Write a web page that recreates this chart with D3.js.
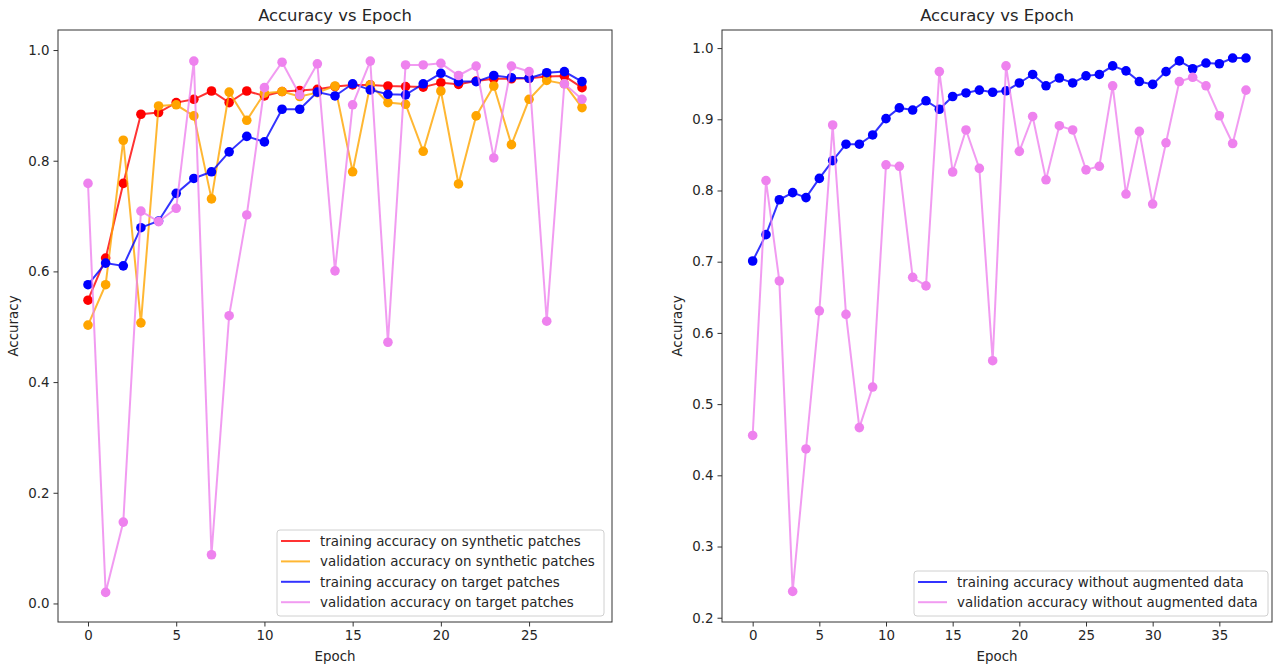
<!DOCTYPE html>
<html>
<head>
<meta charset="utf-8">
<script src="https://cdn.jsdelivr.net/npm/d3@7"></script>
<style>
  html, body { margin: 0; padding: 0; background: #fff; }
  svg { display: block; font-family: "DejaVu Sans", sans-serif; }
</style>
</head>
<body>
<svg id="chart" width="1276" height="665"></svg>
<script>
// --- data ---
var epochsLeft = d3.range(0, 29);
var trainSynthetic = [0.548, 0.624, 0.759, 0.884, 0.887, 0.905, 0.911, 0.926, 0.905, 0.926,
  0.917, 0.925, 0.927, 0.929, 0.934, 0.937, 0.937, 0.935, 0.934, 0.933,
  0.941, 0.938, 0.944, 0.948, 0.948, 0.949, 0.952, 0.953, 0.932];
var valSynthetic = [0.503, 0.576, 0.837, 0.507, 0.899, 0.901, 0.881, 0.731, 0.924, 0.873,
  0.922, 0.925, 0.916, 0.923, 0.935, 0.780, 0.937, 0.905, 0.902, 0.817,
  0.926, 0.758, 0.881, 0.935, 0.829, 0.911, 0.945, 0.939, 0.896];
var trainTarget = [0.576, 0.615, 0.610, 0.679, 0.691, 0.741, 0.768, 0.780, 0.816, 0.844,
  0.834, 0.893, 0.893, 0.924, 0.917, 0.939, 0.928, 0.920, 0.919, 0.939,
  0.958, 0.943, 0.943, 0.954, 0.950, 0.949, 0.959, 0.961, 0.943];
var valTarget = [0.759, 0.020, 0.147, 0.709, 0.690, 0.714, 0.980, 0.088, 0.520, 0.702,
  0.932, 0.978, 0.919, 0.975, 0.601, 0.901, 0.980, 0.472, 0.973, 0.973,
  0.976, 0.954, 0.971, 0.805, 0.971, 0.961, 0.510, 0.939, 0.911];

var epochsRight = d3.range(0, 38);
var trainNoAug = [0.701, 0.738, 0.787, 0.797, 0.790, 0.817, 0.842, 0.865, 0.865, 0.878,
  0.901, 0.916, 0.913, 0.926, 0.914, 0.932, 0.937, 0.941, 0.938, 0.940,
  0.951, 0.963, 0.947, 0.958, 0.951, 0.961, 0.963, 0.975, 0.968, 0.953,
  0.949, 0.967, 0.982, 0.971, 0.979, 0.978, 0.986, 0.986];
var valNoAug = [0.456, 0.814, 0.673, 0.237, 0.437, 0.631, 0.892, 0.626, 0.467, 0.524,
  0.836, 0.834, 0.678, 0.666, 0.967, 0.826, 0.885, 0.831, 0.561, 0.975,
  0.855, 0.904, 0.815, 0.891, 0.885, 0.829, 0.834, 0.947, 0.795, 0.883,
  0.781, 0.867, 0.953, 0.959, 0.947, 0.905, 0.866, 0.941];

var leftXTicks = [0, 5, 10, 15, 20, 25];
var leftYTicks = [0.0, 0.2, 0.4, 0.6, 0.8, 1.0];
var rightXTicks = [0, 5, 10, 15, 20, 25, 30, 35];
var rightYTicks = [0.2, 0.3, 0.4, 0.5, 0.6, 0.7, 0.8, 0.9, 1.0];

var svg = d3.select('#chart');
var textColor = '#262626';
var fontSize = '13.4px';

function drawPanel(opts) {
  var box = opts.box;
  var x = d3.scaleLinear().domain(opts.xDomain).range([box.left, box.right]);
  var y = d3.scaleLinear().domain(opts.yDomain).range([box.bottom, box.top]);
  var g = svg.append('g');

  // series: line first, then markers
  opts.series.forEach(function (s) {
    var pts = s.values.map(function (v, i) { return [opts.epochs[i], v]; });
    g.append('path')
      .attr('d', d3.line().x(function (d) { return x(d[0]); }).y(function (d) { return y(d[1]); })(pts))
      .attr('fill', 'none')
      .attr('stroke', s.color)
      .attr('stroke-opacity', 0.8)
      .attr('stroke-width', 2);
    g.selectAll(null).data(pts).enter().append('circle')
      .attr('cx', function (d) { return x(d[0]); })
      .attr('cy', function (d) { return y(d[1]); })
      .attr('r', 4.8)
      .attr('fill', s.color);
  });

  // frame
  g.append('rect')
    .attr('x', box.left).attr('y', box.top)
    .attr('width', box.right - box.left).attr('height', box.bottom - box.top)
    .attr('fill', 'none').attr('stroke', '#333').attr('stroke-width', 1);

  // x axis
  var xa = g.append('g').attr('transform', 'translate(0,' + box.bottom + ')')
    .call(d3.axisBottom(x).tickValues(opts.xTicks).tickSize(4.5).tickPadding(4).tickFormat(d3.format('d')));
  xa.select('.domain').remove();
  xa.selectAll('line').attr('stroke', '#333');
  xa.selectAll('text').attr('fill', textColor).style('font-size', fontSize).style('font-family', 'DejaVu Sans');

  // y axis
  var ya = g.append('g').attr('transform', 'translate(' + box.left + ',0)')
    .call(d3.axisLeft(y).tickValues(opts.yTicks).tickSize(4.5).tickPadding(4).tickFormat(d3.format('.1f')));
  ya.select('.domain').remove();
  ya.selectAll('line').attr('stroke', '#333');
  ya.selectAll('text').attr('fill', textColor).style('font-size', fontSize).style('font-family', 'DejaVu Sans');

  // title and labels
  var cx = (box.left + box.right) / 2;
  g.append('text').attr('x', cx).attr('y', 21).attr('text-anchor', 'middle')
    .attr('fill', textColor).style('font-size', '16.4px').text('Accuracy vs Epoch');
  g.append('text').attr('x', cx).attr('y', 661).attr('text-anchor', 'middle')
    .attr('fill', textColor).style('font-size', fontSize).text('Epoch');
  var cy = (box.top + box.bottom) / 2;
  g.append('text').attr('transform', 'translate(' + opts.yLabelX + ',' + cy + ') rotate(-90)')
    .attr('text-anchor', 'middle').attr('fill', textColor).style('font-size', fontSize).text('Accuracy');

  // legend
  var lg = opts.legend;
  g.append('rect').attr('x', lg.left).attr('y', lg.top)
    .attr('width', lg.right - lg.left).attr('height', lg.bottom - lg.top)
    .attr('rx', 3).attr('fill', '#fff').attr('fill-opacity', 0.8)
    .attr('stroke', '#d0d0d0').attr('stroke-width', 1);
  opts.series.forEach(function (s, i) {
    var ry = lg.firstRow + i * lg.step;
    g.append('line').attr('x1', lg.left + 4).attr('x2', lg.left + 33)
      .attr('y1', ry).attr('y2', ry)
      .attr('stroke', s.color).attr('stroke-opacity', 0.8).attr('stroke-width', 2);
    g.append('text').attr('x', lg.left + 43).attr('y', ry + 4.7)
      .attr('fill', textColor).style('font-size', fontSize).text(s.label);
  });
}

drawPanel({
  box: { left: 58, right: 612, top: 30, bottom: 622 },
  xDomain: [-1.7, 29.7],
  yDomain: [-0.0335, 1.0362],
  epochs: epochsLeft,
  xTicks: leftXTicks,
  yTicks: leftYTicks,
  yLabelX: 18,
  series: [
    { label: 'training accuracy on synthetic patches', values: trainSynthetic, color: 'red' },
    { label: 'validation accuracy on synthetic patches', values: valSynthetic, color: 'orange' },
    { label: 'training accuracy on target patches', values: trainTarget, color: 'blue' },
    { label: 'validation accuracy on target patches', values: valTarget, color: 'violet' }
  ],
  legend: { left: 277, right: 604, top: 530, bottom: 616, firstRow: 541, step: 20.4 }
});

drawPanel({
  box: { left: 722, right: 1272, top: 30, bottom: 622 },
  xDomain: [-2.3, 38.95],
  yDomain: [0.194, 1.0254],
  epochs: epochsRight,
  xTicks: rightXTicks,
  yTicks: rightYTicks,
  yLabelX: 682,
  series: [
    { label: 'training accuracy without augmented data', values: trainNoAug, color: 'blue' },
    { label: 'validation accuracy without augmented data', values: valNoAug, color: 'violet' }
  ],
  legend: { left: 914, right: 1268, top: 571, bottom: 616, firstRow: 582, step: 20.2 }
});
</script>
</body>
</html>
